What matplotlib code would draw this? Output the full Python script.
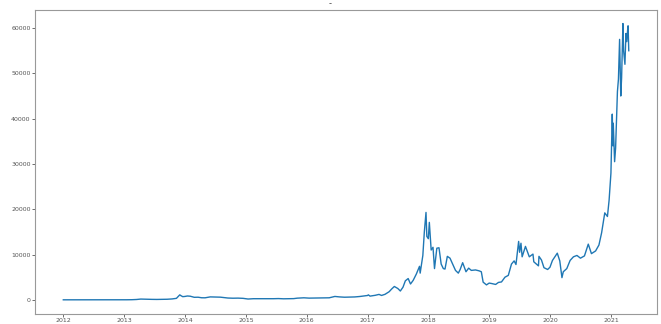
import matplotlib
matplotlib.use("Agg")
import matplotlib.pyplot as plt
import pandas as pd

# ================== data ==================
DATES = [
    "2012-01-01", "2012-02-01", "2012-03-01", "2012-04-01", "2012-05-01", "2012-06-01",
    "2012-07-01", "2012-08-15", "2012-09-15", "2012-10-15", "2012-11-15", "2012-12-15",
    "2013-01-15", "2013-02-15", "2013-03-15", "2013-04-10", "2013-05-15", "2013-06-15",
    "2013-07-15", "2013-08-15", "2013-09-15", "2013-10-15", "2013-11-10", "2013-11-30",
    "2013-12-08", "2013-12-18", "2013-12-31",
    "2014-01-15", "2014-02-01", "2014-02-25", "2014-03-20", "2014-04-10", "2014-05-01",
    "2014-06-01", "2014-07-01", "2014-08-01", "2014-08-20", "2014-09-15", "2014-10-15",
    "2014-11-15", "2014-12-15",
    "2015-01-14", "2015-02-15", "2015-03-15", "2015-04-15", "2015-05-15", "2015-06-15",
    "2015-07-15", "2015-08-15", "2015-09-15", "2015-10-15", "2015-11-05", "2015-12-15",
    "2016-01-15", "2016-02-15", "2016-03-15", "2016-04-15", "2016-05-15", "2016-06-18",
    "2016-07-15", "2016-08-15", "2016-09-15", "2016-10-15", "2016-11-15", "2016-12-31",
    "2017-01-05", "2017-01-15", "2017-02-15", "2017-03-10", "2017-03-25", "2017-04-15",
    "2017-05-10", "2017-05-25", "2017-06-10", "2017-07-01", "2017-07-16", "2017-08-01",
    "2017-08-15", "2017-09-01", "2017-09-15", "2017-10-01", "2017-10-20", "2017-11-08",
    "2017-11-12", "2017-11-28", "2017-12-07", "2017-12-17", "2017-12-22", "2017-12-31",
    "2018-01-06", "2018-01-17", "2018-01-28", "2018-02-06", "2018-02-20", "2018-03-05",
    "2018-03-18", "2018-03-31", "2018-04-10", "2018-04-24", "2018-05-10", "2018-05-31",
    "2018-06-12", "2018-06-29", "2018-07-10", "2018-07-25", "2018-08-14", "2018-08-30",
    "2018-09-15", "2018-10-10", "2018-11-01", "2018-11-14", "2018-11-25", "2018-12-15",
    "2018-12-31",
    "2019-01-15", "2019-02-08", "2019-02-25", "2019-03-15", "2019-04-05", "2019-04-25",
    "2019-05-14", "2019-05-30", "2019-06-10", "2019-06-26", "2019-07-02", "2019-07-10",
    "2019-07-17", "2019-08-06", "2019-08-29", "2019-09-20", "2019-09-25", "2019-10-23",
    "2019-10-26", "2019-11-10", "2019-11-25", "2019-12-17", "2019-12-31",
    "2020-01-15", "2020-02-13", "2020-02-28", "2020-03-12", "2020-03-20", "2020-04-10",
    "2020-04-30", "2020-05-20", "2020-06-10", "2020-07-01", "2020-07-25", "2020-08-17",
    "2020-09-05", "2020-09-30", "2020-10-20", "2020-11-05", "2020-11-24", "2020-12-10",
    "2020-12-20", "2020-12-31",
    "2021-01-08", "2021-01-12", "2021-01-14", "2021-01-22", "2021-01-28", "2021-02-08",
    "2021-02-14", "2021-02-21", "2021-02-28", "2021-03-05", "2021-03-13", "2021-03-17",
    "2021-03-25", "2021-03-31", "2021-04-05", "2021-04-10", "2021-04-13", "2021-04-17",
]
PRICE = [
    5, 5, 5, 5, 5, 6,
    8, 11, 12, 12, 11, 13,
    15, 30, 75, 170, 125, 105,
    90, 110, 130, 200, 330, 1100,
    900, 700, 750,
    850, 800, 560, 580, 460, 450,
    650, 630, 590, 500, 400, 360,
    380, 330,
    180, 250, 250, 230, 240, 250,
    280, 230, 240, 270, 370, 450,
    380, 400, 415, 430, 450, 750,
    650, 580, 610, 640, 740, 960,
    1100, 820, 1000, 1200, 970, 1220,
    1800, 2400, 2950, 2500, 1950, 2800,
    4200, 4700, 3500, 4300, 5700, 7400,
    5900, 9800, 15000, 19300, 14000, 13500,
    17100, 11000, 11600, 6900, 11400, 11500,
    7900, 6900, 6800, 9600, 9200, 7500,
    6500, 5900, 6700, 8200, 6200, 7000,
    6500, 6600, 6400, 6200, 3900, 3300,
    3700,
    3600, 3400, 3850, 3950, 5000, 5400,
    7900, 8600, 7800, 12900, 10500, 12500,
    9500, 11800, 9500, 10100, 8400, 7500,
    9600, 8800, 7100, 6700, 7200,
    8700, 10300, 8600, 4900, 6200, 6900,
    8700, 9500, 9800, 9200, 9700, 12300,
    10200, 10800, 12100, 14800, 19200, 18400,
    22000, 28000,
    41000, 34000, 39000, 30500, 33500, 46000,
    48700, 57500, 45000, 49000, 61000, 55000,
    52000, 58800, 57000, 59500, 60500, 55000,
]

x = pd.to_datetime(DATES)

fig = plt.figure(figsize=(6.61, 3.24), dpi=100)
ax = fig.add_axes([0.053, 0.032, 0.941, 0.938])

ax.plot(x, PRICE, color="#1f77b4", linewidth=1.0)

for s in ax.spines.values():
    s.set_edgecolor("#999999")
ax.tick_params(labelsize=4.5, colors="#555555", length=2, width=0.6, pad=1.2)
ax.set_yticks([0, 10000, 20000, 30000, 40000, 50000, 60000])

fig.text(0.499, 0.975, "-", fontsize=6, ha="center", va="bottom", color="#444444")

fig.savefig("out.png", dpi=100)
